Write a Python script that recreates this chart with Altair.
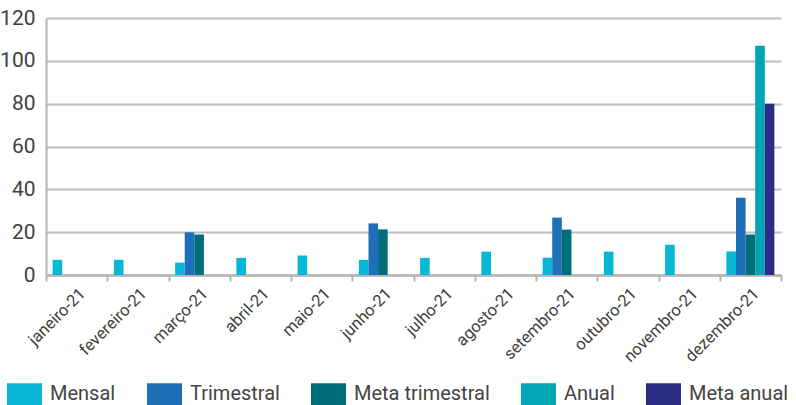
import altair as alt
import pandas as pd

months = ["janeiro-21", "fevereiro-21", "março-21", "abril-21", "maio-21", "junho-21",
          "julho-21", "agosto-21", "setembro-21", "outubro-21", "novembro-21", "dezembro-21"]
series = ["Mensal", "Trimestral", "Meta trimestral", "Anual", "Meta anual"]
colors = ["#08B7D5", "#1E6FB7", "#006E78", "#00A6B6", "#2D2C83"]

mensal = [7.1, 7.1, 5.8, 8.0, 9.1, 7.1, 8.0, 10.9, 8.1, 10.9, 14.1, 11.0]
trimestral = [None, None, 19.9, None, None, 24.1, None, None, 26.8, None, None, 36.1]
meta_trimestral = [None, None, 18.9, None, None, 21.3, None, None, 21.2, None, None, 18.9]
anual = [None] * 11 + [107.0]
meta_anual = [None] * 11 + [80.0]
y_ticks = [0, 20, 40, 60, 80, 100, 120]

rows = []
for name, vals in zip(series, [mensal, trimestral, meta_trimestral, anual, meta_anual]):
    for m, v in zip(months, vals):
        if v is not None:
            rows.append({"mes": m, "serie": name, "valor": v})
df = pd.DataFrame(rows)

font = "Roboto"

chart = alt.Chart(df).mark_bar().encode(
    x=alt.X("mes:N", sort=months,
            scale=alt.Scale(domain=months, paddingInner=0, paddingOuter=0),
            axis=alt.Axis(title=None, labelAngle=-45, labelAlign="right", labelBaseline="top",
                          tickBand="extent", labelFontSize=16.5, labelFont=font, labelColor="#404040",
                          labelPadding=4, domainColor="#B5B5B5", domainWidth=2.5,
                          tickColor="#B5B5B5", tickWidth=2, tickSize=6, grid=False)),
    xOffset=alt.XOffset("serie:N", scale=alt.Scale(domain=series, paddingInner=0, paddingOuter=0.69)),
    y=alt.Y("valor:Q", scale=alt.Scale(domain=[0, 120], nice=False),
            axis=alt.Axis(title=None, values=y_ticks, ticks=False, labelFontSize=21, labelFont=font,
                          labelColor="#404040", labelPadding=11, domainColor="#B5B5B5", domainWidth=2,
                          gridColor="#BEBEBE", gridWidth=2)),
    color=alt.Color("serie:N", scale=alt.Scale(domain=series, range=colors),
                    legend=alt.Legend(title=None, orient="none", legendX=-39, legendY=358.5,
                                      direction="horizontal", columns=5,
                                      symbolType="M-1,-0.63H1V0.63H-1Z", symbolSize=1225,
                                      symbolStrokeWidth=0, symbolOpacity=1,
                                      labelFontSize=20, labelFont=font, labelColor="#444444",
                                      labelOffset=8, columnPadding=31)),
).properties(
    width=735, height=257,
    autosize=alt.AutoSizeParams(type="none"),
    padding={"left": 46, "top": 18, "right": 15, "bottom": 130},
).configure_view(stroke=None)

chart.save("out.html", embed_options={"renderer": "svg", "actions": False})
